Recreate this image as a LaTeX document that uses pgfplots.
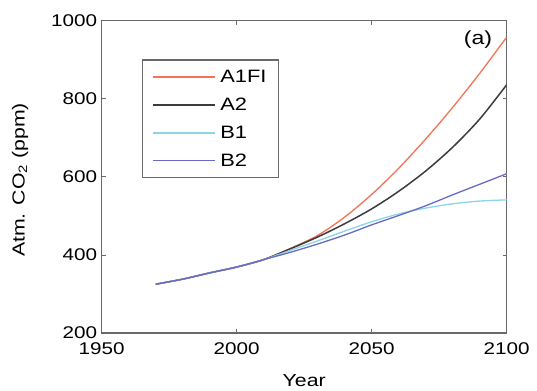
\documentclass[border=0pt]{standalone}
\usepackage{fontspec}
\setmainfont{Liberation Sans}[FakeStretch=1.22]
\usepackage{pgfplots}
\pgfplotsset{compat=1.18}
\definecolor{cAone}{RGB}{242,115,85}
\definecolor{cAtwo}{RGB}{60,60,60}
\definecolor{cBone}{RGB}{140,212,230}
\definecolor{cBtwo}{RGB}{105,105,200}
\definecolor{axgray}{RGB}{105,105,105}
\begin{document}
\begin{tikzpicture}
\begin{axis}[
  at={(0,0)}, anchor=south west,
  scale only axis, width=405bp, height=312.3bp,
  xmin=1950, xmax=2100, ymin=200, ymax=1000,
  xtick={1950,2000,2050,2100}, ytick={200,400,600,800,1000},
  xtick pos=both, ytick pos=both,
  tick align=inside, major tick length=4bp,
  axis line style={draw=axgray, line width=1.4bp},
  every tick/.style={axgray, line width=0.8bp},
  /pgf/number format/assume math mode=true,
  /pgf/number format/1000 sep={},
  tick label style={font=\fontsize{17}{20}\selectfont},
  xticklabel style={yshift=-6bp},
  yticklabel style={xshift=-1bp},
  xlabel={Year}, ylabel={Atm. CO\textsubscript{2} (ppm)},
  label style={font=\fontsize{17.5}{20}\selectfont},
  xlabel style={at={(axis description cs:0.5,0)}, anchor=north, inner sep=0pt, yshift=-41bp},
  ylabel style={at={(axis description cs:-0.2017,0.49)}, anchor=center, inner sep=0pt},
  legend style={at={(rel axis cs:0.0988,0.876)}, anchor=north west,
    draw=axgray, line width=1.1bp, font=\fontsize{18}{20}\selectfont,
    row sep=10bp, column sep=3bp, inner xsep=9.5bp, inner ysep=8bp},
  legend cell align=left,
  legend image code/.code={\draw[#1, line width=1.6bp] (0bp,0bp) -- (62bp,0bp);},
]
\addplot[draw=cAone, line width=1.3bp, smooth] coordinates {
(1970,325) (1980,338) (1990,354) (2000,369) (2010,388) (2020,417) (2030,450)
(2040,497) (2050,555) (2060,622) (2070,697) (2080,778) (2090,865) (2100,958)};
\addlegendentry{A1FI}
\addplot[draw=cAtwo, line width=1.5bp, smooth] coordinates {
(1970,325) (1980,338) (1990,354) (2000,369) (2010,388) (2020,416) (2030,446)
(2040,480) (2050,518) (2060,563) (2070,615) (2080,676) (2090,748) (2100,836)};
\addlegendentry{A2}
\addplot[draw=cBone, line width=1.3bp, smooth] coordinates {
(1970,325) (1980,338) (1990,354) (2000,369) (2010,388) (2020,412) (2030,436)
(2040,461) (2050,485) (2060,505) (2070,520) (2080,531) (2090,538) (2100,541)};
\addlegendentry{B1}
\addplot[draw=cBtwo, line width=1.3bp, smooth] coordinates {
(1970,325) (1980,338) (1990,354) (2000,369) (2010,388) (2020,407) (2030,428)
(2040,451) (2050,477) (2060,501) (2070,526) (2080,554) (2090,581) (2100,608)};
\addlegendentry{B2}
\node[font=\fontsize{19}{22}\selectfont] at (rel axis cs:0.929,0.938) {(a)};
\end{axis}
\pgfresetboundingbox
\path[use as bounding box] (-101.7bp,-58bp) rectangle (435.3bp,333bp);
\end{tikzpicture}
\end{document}
